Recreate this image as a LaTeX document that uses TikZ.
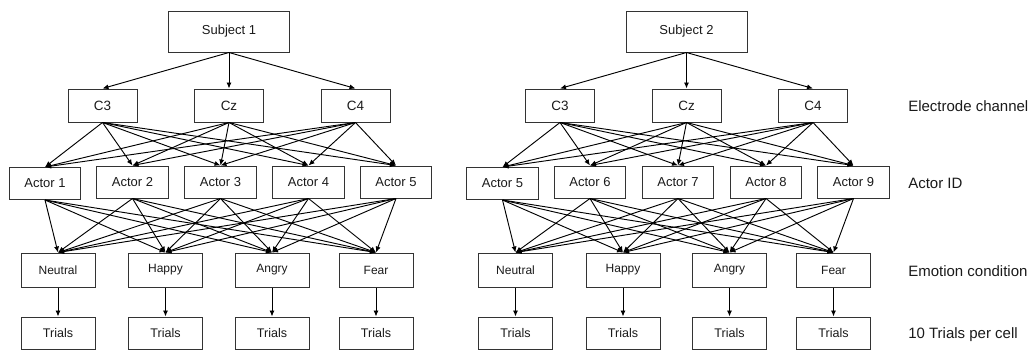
\documentclass[tikz,border=0pt]{standalone}
\usepackage{fontspec}
\setmainfont{Liberation Sans}
\usetikzlibrary{arrows.meta}
\definecolor{boxline}{HTML}{333333}
\definecolor{txt}{HTML}{1A1A1A}
\begin{document}
\begin{tikzpicture}[x=0.75pt,y=-0.75pt,
  box/.style={draw=boxline, line width=0.75pt, inner sep=0pt, text=txt, align=center},
  subj/.style={box, minimum width=90.75pt, minimum height=30.75pt, font=\fontsize{9.75}{11}\selectfont},
  chan/.style={box, minimum width=51.75pt, minimum height=24.75pt, font=\fontsize{10.1}{12}\selectfont},
  actor/.style={box, minimum width=53.6pt, minimum height=24pt, font=\fontsize{9.75}{11}\selectfont},
  emo/.style={box, minimum width=55.5pt, minimum height=25.5pt, font=\fontsize{9}{11}\selectfont},
  trial/.style={box, minimum width=55.5pt, minimum height=24pt, font=\fontsize{9.4}{11}\selectfont},
  lbl/.style={anchor=west, inner sep=0pt, text=txt, font=\fontsize{11.25}{13}\selectfont},
  arr/.style={draw=black, line width=0.7pt, -{Latex[length=4.5pt,width=3.8pt]}}]
\useasboundingbox (0,0) rectangle (1030,350);
\foreach \s/\off/\first in {1/0/1, 2/457.5/5} {
  \node[subj] (S\s) at (229+\off,31.5) {Subject \s};
  \foreach \c/\cx/\cl in {1/102.5/C3, 2/229/Cz, 3/355.5/C4}
    \node[chan] (C\s\c) at (\cx+\off,105.5) {\cl};
  \foreach \a/\ax/\ay in {1/45/183.5, 2/132.5/182, 3/220.5/182, 4/308.5/182, 5/396/182} {
    \pgfmathtruncatemacro\num{\first+\a-1}
    \node[actor] (A\s\a) at (\ax+\off,\ay) {Actor \num};
  }
  \foreach \e/\ex/\el in {1/58/Neutral, 2/165.5/Happy, 3/272/Angry, 4/376/Fear} {
    \node[emo] (E\s\e) at (\ex+\off,270) {\el};
    \node[trial] (T\s\e) at (\ex+\off,333) {Trials};
  }
  \foreach \c in {1,2,3} {
    \draw[arr] (S\s.south) -- (C\s\c.north);
    \foreach \a in {1,...,5}
      \draw[arr] (C\s\c.south) -- (A\s\a.north);
  }
  \foreach \a in {1,...,5}
    \foreach \e in {1,...,4}
      \draw[arr] (A\s\a.south) -- (E\s\e.north);
  \foreach \e in {1,...,4}
    \draw[arr] (E\s\e.south) -- (T\s\e.north);
}
\node[lbl] (L1) at (908,106) {Electrode channel};
\node[lbl] (L2) at (908,183) {Actor ID};
\node[lbl] (L3) at (908,271) {Emotion condition};
\node[lbl] (L4) at (908,335) {10 Trials per cell};
\end{tikzpicture}
\end{document}
